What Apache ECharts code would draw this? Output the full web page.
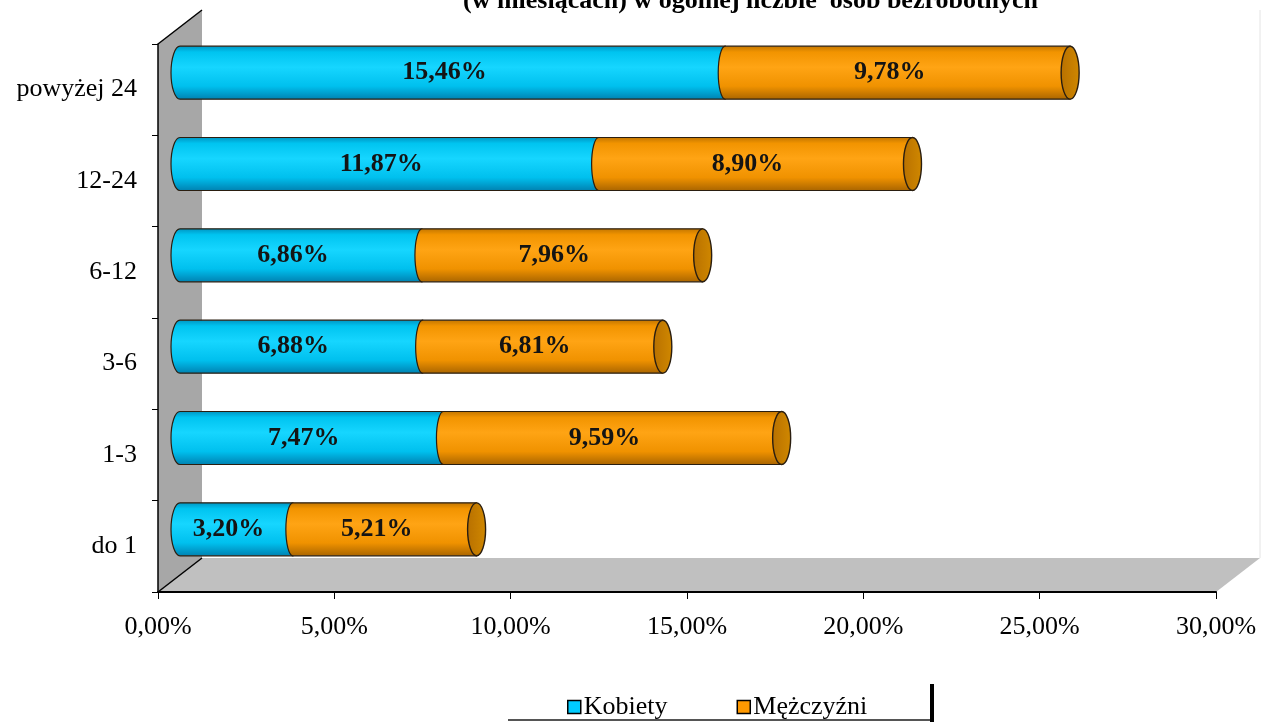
<!DOCTYPE html>
<html><head><meta charset="utf-8">
<script src="https://cdn.jsdelivr.net/npm/echarts@6/dist/echarts.min.js"></script>
<style>html,body{margin:0;padding:0;background:#fff}#c{width:1271px;height:722px}</style>
</head><body><div id="c"></div>
<script>
const categories = ['do 1', '1-3', '3-6', '6-12', '12-24', 'powyżej 24'];
const kobiety = [3.20, 7.47, 6.88, 6.86, 11.87, 15.46];
const mezczyzni = [5.21, 9.59, 6.81, 7.96, 8.90, 9.78];
const seriesNames = ['Kobiety', 'Mężczyźni'];
const titleText = '(w miesiącach) w ogólnej liczbie  osób bezrobotnych';

const DX = 44, DY = -34;          // 3D depth offset of the back wall
const SERIF = '"Liberation Serif", "Times New Roman", serif';
const fmt = v => v.toFixed(2).replace('.', ',') + '%';

const kData = kobiety.map((v, i) => [0, v, i]);
const mData = mezczyzni.map((v, i) => [kobiety[i], kobiety[i] + v, i]);

function geom(api) {
  const x0 = api.value(0), x1 = api.value(1), c = api.value(2);
  const p0 = api.coord([x0, c]), p1 = api.coord([x1, c]);
  const band = api.size([0, 1])[1];
  const ry = band * 0.58 / 2, rx = 9;
  const a = p0[0] + DX / 2, b = p1[0] + DX / 2, cy = p0[1] + DY / 2;
  return {a, b, cy, rx, ry, t: cy - ry, bt: cy + ry, v: x1 - x0};
}

const blueGrad = {type: 'linear', x: 0, y: 0, x2: 0, y2: 1, colorStops: [
  {offset: 0, color: '#0092c0'}, {offset: 0.12, color: '#00c4f0'}, {offset: 0.4, color: '#16d6ff'},
  {offset: 0.75, color: '#00c0ee'}, {offset: 1, color: '#0080b0'}]};
const orangeGrad = {type: 'linear', x: 0, y: 0, x2: 0, y2: 1, colorStops: [
  {offset: 0, color: '#c07400'}, {offset: 0.12, color: '#f29400'}, {offset: 0.4, color: '#ffa414'},
  {offset: 0.75, color: '#f09200'}, {offset: 1, color: '#a86400'}]};
const capGrad = {type: 'linear', x: 0, y: 0, x2: 1, y2: 0, colorStops: [
  {offset: 0, color: '#b87000'}, {offset: 1, color: '#d08800'}]};
const STROKE = '#2a1e10';

function labelEl(g) {
  return {type: 'text', z2: 10, style: {text: fmt(g.v), x: (g.a + g.b) / 2 - 8, y: g.cy,
    align: 'center', verticalAlign: 'middle', font: 'bold 26px ' + SERIF, fill: '#141414'}};
}

function renderBlue(params, api) {
  const g = geom(api);
  const d = `M${g.a},${g.t} L${g.b},${g.t} L${g.b},${g.bt} L${g.a},${g.bt} A${g.rx},${g.ry} 0 0 1 ${g.a},${g.t} Z`;
  return {type: 'group', children: [
    {type: 'path', shape: {pathData: d}, style: {fill: blueGrad, stroke: STROKE, lineWidth: 1.2}},
    labelEl(g)
  ]};
}

function renderOrange(params, api) {
  const g = geom(api);
  const body = `M${g.a},${g.t} L${g.b},${g.t} L${g.b},${g.bt} L${g.a},${g.bt} A7,${g.ry} 0 0 1 ${g.a},${g.t} Z`;
  return {type: 'group', children: [
    {type: 'path', shape: {pathData: body}, style: {fill: orangeGrad, stroke: STROKE, lineWidth: 1.2}},
    {type: 'ellipse', shape: {cx: g.b, cy: g.cy, rx: g.rx, ry: g.ry}, style: {fill: capGrad, stroke: STROKE, lineWidth: 1.4}},
    labelEl(g)
  ]};
}

function renderWalls(params, api) {
  const cs = params.coordSys;
  const L = cs.x, T = cs.y, R = cs.x + cs.width, B = cs.y + cs.height;
  return {type: 'group', children: [
    {type: 'line', shape: {x1: R + DX, y1: T + DY, x2: R + DX, y2: B + DY}, style: {stroke: '#e4e4e4', lineWidth: 1}},
    {type: 'polygon', shape: {points: [[L, T], [L + DX, T + DY], [L + DX, B + DY], [L, B]]}, style: {fill: '#a7a7a7'}},
    {type: 'polygon', shape: {points: [[L, B], [L + DX, B + DY], [R + DX, B + DY], [R, B]]}, style: {fill: '#c0c0c0'}},
    {type: 'line', shape: {x1: L, y1: T, x2: L + DX, y2: T + DY}, style: {stroke: '#000', lineWidth: 1.5}},
    {type: 'line', shape: {x1: L, y1: B, x2: L + DX, y2: B + DY}, style: {stroke: '#000', lineWidth: 1.5}}
  ]};
}

const chart = echarts.init(document.getElementById('c'), null, {renderer: 'canvas'});
chart.setOption({
  animation: false,
  backgroundColor: '#fff',
  textStyle: {fontFamily: SERIF},
  grid: {left: 158, right: 55, top: 44, bottom: 130, containLabel: false},
  xAxis: {
    type: 'value', min: 0, max: 30, interval: 5, z: 10,
    splitLine: {show: false},
    axisLine: {show: true, lineStyle: {color: '#000', width: 2}},
    axisTick: {show: true, length: 7, lineStyle: {color: '#000', width: 1}},
    axisLabel: {formatter: fmt, fontSize: 26, color: '#000', margin: 22, fontFamily: SERIF}
  },
  yAxis: {
    type: 'category', data: categories, z: 10,
    axisLine: {show: true, lineStyle: {color: '#000', width: 1.5}},
    axisTick: {show: true, length: 6, lineStyle: {color: '#000', width: 1}},
    axisLabel: {fontSize: 26, color: '#000', margin: 21, fontFamily: SERIF},
    splitLine: {show: false}
  },
  legend: {
    data: seriesNames, left: 562, top: 689, itemWidth: 13, itemHeight: 13, itemGap: 69,
    icon: 'rect', textStyle: {fontSize: 26, color: '#000', fontFamily: SERIF, padding: [0, 0, 0, -2]},
    itemStyle: {borderColor: '#000', borderWidth: 1.5}
  },
  graphic: [
    {type: 'text', left: 463, top: -12, style: {text: titleText, font: 'bold 26px ' + SERIF, fill: '#000'}},
    {type: 'line', shape: {x1: 508, y1: 720, x2: 930, y2: 720}, style: {stroke: '#555', lineWidth: 2}},
    {type: 'line', shape: {x1: 932, y1: 684, x2: 932, y2: 722}, style: {stroke: '#000', lineWidth: 4}}
  ],
  series: [
    {type: 'custom', name: 'walls', z: 1, silent: true, data: [[0, 0, 0]], renderItem: renderWalls, encode: {x: 0, y: 2}},
    {type: 'custom', name: seriesNames[0], z: 3, data: kData, renderItem: renderBlue, encode: {x: [0, 1], y: 2},
      itemStyle: {color: '#00ccff', borderColor: '#000'}},
    {type: 'custom', name: seriesNames[1], z: 4, data: mData, renderItem: renderOrange, encode: {x: [0, 1], y: 2},
      itemStyle: {color: '#ff9900', borderColor: '#000'}}
  ]
});
</script></body></html>
